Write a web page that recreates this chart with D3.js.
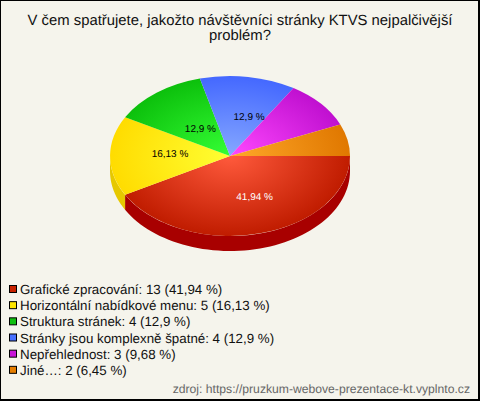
<!DOCTYPE html>
<html><head><meta charset="utf-8">
<script src="https://cdn.jsdelivr.net/npm/d3@7"></script>
<style>html,body{margin:0;padding:0;background:#f5f4ec}svg{display:block}text{font-family:"Liberation Sans",Arial,sans-serif;text-rendering:geometricPrecision}</style>
</head><body><div id="c"></div>
<script>
const titleLines = ["V čem spatřujete, jakožto návštěvníci stránky KTVS nejpalčivější", "problém?"];
const categories = ["Grafické zpracování", "Horizontální nabídkové menu", "Struktura stránek", "Stránky jsou komplexně špatné", "Nepřehlednost", "Jiné…"];
const counts = [13, 5, 4, 4, 3, 2];
const percentLabels = ["41,94 %", "16,13 %", "12,9 %", "12,9 %", "9,68 %", "6,45 %"];
const sourceNote = "zdroj: https://pruzkum-webove-prezentace-kt.vyplnto.cz";

const swatch = ["#c82200", "#ffe600", "#10c010", "#4870ff", "#c814d8", "#e67e00"];
const inner = ["#ff5a3c", "#ffff33", "#35ff35", "#86a8ff", "#ff48ff", "#ffa82a"];
const outer = ["#c01c00", "#ffdc00", "#0cc00c", "#4468ff", "#c010d0", "#e07800"];
const side = ["#a80000", "#e6c800"];
// label placement: [radius fraction, x nudge, y nudge]; slices without a label are null
const labelPlace = [[.52, 9, 0, "#fff"], [.5, 0, -3, "#000"], [.43, 2, 0, "#000"], [.5, 10, 0, "#000"], null, null];

const W = 480, H = 401, cx = 230, cy = 156, rx = 120, ry = 80, depth = 15;
const svg = d3.select("#c").append("svg").attr("width", W).attr("height", H);
svg.append("rect").attr("width", W).attr("height", H).attr("fill", "#000");
svg.append("rect").attr("x", 1).attr("y", 1).attr("width", W - 3).attr("height", H - 3).attr("fill", "#f5f4ec");

svg.selectAll("text.title").data(titleLines).join("text").attr("class", "title")
  .attr("x", 240).attr("y", (d, i) => 25 + i * 14.5).attr("text-anchor", "middle")
  .attr("font-size", 14.85).attr("fill", "#111").text(d => d);

const pie = d3.pie().sort(null).startAngle(Math.PI / 2).endAngle(Math.PI / 2 + 2 * Math.PI);
const slices = pie(counts);
const defs = svg.append("defs");
slices.forEach((s, i) => {
  const g = defs.append("radialGradient").attr("id", "g" + i).attr("gradientUnits", "userSpaceOnUse")
    .attr("cx", 0).attr("cy", 0).attr("r", 1);
  g.append("stop").attr("offset", 0).attr("stop-color", inner[i]);
  g.append("stop").attr("offset", 1).attr("stop-color", outer[i]);
});

const rimPath = (a0, a1) => {
  const p = d3.path(), n = 60;
  const px = a => rx * Math.sin(a), py = a => -ry * Math.cos(a);
  p.moveTo(px(a0), py(a0));
  for (let k = 1; k <= n; k++) { const a = a0 + (a1 - a0) * k / n; p.lineTo(px(a), py(a)); }
  for (let k = n; k >= 0; k--) { const a = a0 + (a1 - a0) * k / n; p.lineTo(px(a), py(a) + depth); }
  p.closePath();
  return p.toString();
};
const gPie = svg.append("g").attr("transform", `translate(${cx},${cy})`);
slices.forEach((s, i) => {
  const a0 = Math.max(s.startAngle, Math.PI / 2), a1 = Math.min(s.endAngle, 3 * Math.PI / 2);
  if (a1 > a0) gPie.append("path").attr("d", rimPath(a0, a1)).attr("fill", side[i]);
});
const arc = d3.arc().innerRadius(0).outerRadius(1);
gPie.append("g").attr("transform", `scale(${rx},${ry})`)
  .selectAll("path").data(slices).join("path")
  .attr("d", arc).attr("fill", (d, i) => `url(#g${i})`);

slices.forEach((s, i) => {
  const lp = labelPlace[i];
  if (!lp) return;
  const a = (s.startAngle + s.endAngle) / 2;
  gPie.append("text")
    .attr("x", rx * lp[0] * Math.sin(a) + lp[1])
    .attr("y", -ry * lp[0] * Math.cos(a) + lp[2] + 3.5)
    .attr("text-anchor", "middle").attr("font-size", 10).attr("fill", lp[3])
    .text(percentLabels[i]);
});

const y = d3.scaleBand().domain(d3.range(categories.length)).range([281, 378]);
const leg = svg.selectAll("g.leg").data(categories).join("g").attr("class", "leg")
  .attr("transform", (d, i) => `translate(0,${y(i)})`);
leg.append("rect").attr("x", 9.5).attr("y", 4.5).attr("width", 7).attr("height", 7)
  .attr("fill", (d, i) => swatch[i]).attr("stroke", "#000");
leg.append("text").attr("x", 20).attr("y", 13).attr("font-size", 13.33).attr("fill", "#111")
  .text((d, i) => `${d}: ${counts[i]} (${percentLabels[i]})`);

svg.append("text").attr("x", 470).attr("y", 393).attr("text-anchor", "end")
  .attr("font-size", 12.17).attr("fill", "#666").text(sourceNote);
</script></body></html>
